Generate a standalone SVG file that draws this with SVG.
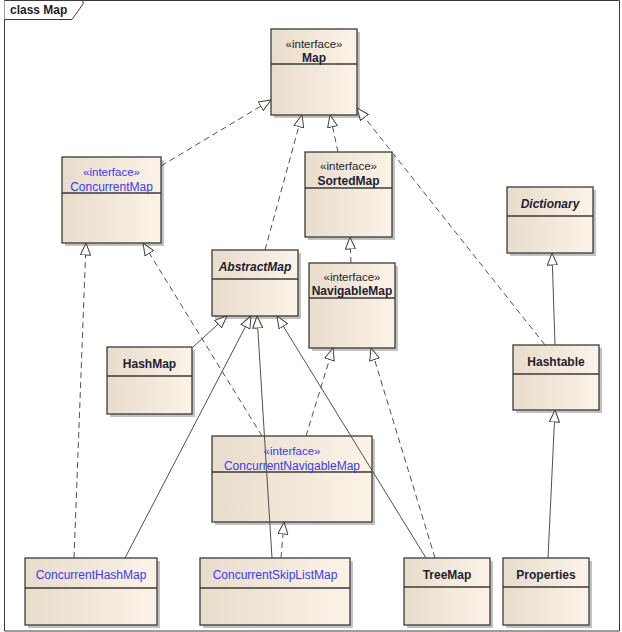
<svg xmlns="http://www.w3.org/2000/svg" width="622" height="632" viewBox="0 0 622 632">
<style>
.box{fill:url(#g);stroke:#3a3a3a;stroke-width:1.3}
.sh{fill:#8f8f8f;opacity:.55}
.dv{stroke:#3a3a3a;stroke-width:1.3}
.st{font-family:"Liberation Sans",Arial,sans-serif;font-size:11.5px;fill:#1e1e30;text-anchor:middle}
.nm{font-family:"Liberation Sans",Arial,sans-serif;font-size:12px;font-weight:bold;fill:#1e1e30;text-anchor:middle}
.it{font-style:italic}
.bl{fill:#3a3af0}
.bn{font-family:"Liberation Sans",Arial,sans-serif;font-size:12px;fill:#3a3af0;text-anchor:middle}
.c{fill:none;stroke:#505050;stroke-width:1;marker-end:url(#tri)}
.d{stroke-dasharray:6 4}
</style>
<defs>
<linearGradient id="g" x1="0" y1="0" x2="1" y2="0">
<stop offset="0" stop-color="#e8dccb"/>
<stop offset="1" stop-color="#fcf3e7"/>
</linearGradient>
<marker id="tri" markerUnits="userSpaceOnUse" markerWidth="13" markerHeight="11" viewBox="0 0 13 11" refX="12.5" refY="5.5" orient="auto">
<path d="M0.5,0.5 L12.5,5.5 L0.5,10.5 Z" fill="#fffdf8" stroke="#404040" stroke-width="1"/>
</marker>
</defs>
<rect x="0" y="0" width="622" height="632" fill="#ffffff"/>
<g id="frame">
<path d="M4.5,0.5 H619.5 V631 H4.5 Z" fill="none" stroke="#3a3a3a" stroke-width="1"/>
<path d="M4.5,0.5 H83 V4 L72,19.5 H4.5" fill="#ffffff" stroke="#3a3a3a" stroke-width="1"/>
<text x="10" y="14" font-family="Liberation Sans,Arial,sans-serif" font-size="12" font-weight="bold" fill="#1e1e30">class Map</text>
</g>

<g id="Map">
<rect class="sh" x="274" y="32" width="86" height="86"/>
<rect class="box" x="271" y="29" width="86" height="86"/>
<line class="dv" x1="271" y1="64" x2="357" y2="64"/>
<text class="st" x="314" y="48">«interface»</text>
<text class="nm" x="314" y="62">Map</text>
</g>

<g id="ConcurrentMap">
<rect class="sh" x="65" y="160" width="99" height="86"/>
<rect class="box" x="62" y="157" width="99" height="86"/>
<line class="dv" x1="62" y1="193" x2="161" y2="193"/>
<text class="st bl" x="111.5" y="176">«interface»</text>
<text class="bn" x="111.5" y="191">ConcurrentMap</text>
</g>

<g id="SortedMap">
<rect class="sh" x="308" y="155" width="87" height="85"/>
<rect class="box" x="305" y="152" width="87" height="85"/>
<line class="dv" x1="305" y1="188" x2="392" y2="188"/>
<text class="st" x="348.5" y="170">«interface»</text>
<text class="nm" x="348.5" y="185">SortedMap</text>
</g>

<g id="AbstractMap">
<rect class="sh" x="215" y="253" width="86" height="66"/>
<rect class="box" x="212" y="250" width="86" height="66"/>
<line class="dv" x1="212" y1="279" x2="298" y2="279"/>
<text class="nm it" x="255" y="271">AbstractMap</text>
</g>

<g id="NavigableMap">
<rect class="sh" x="312" y="266" width="86" height="85"/>
<rect class="box" x="309" y="263" width="86" height="85"/>
<line class="dv" x1="309" y1="298" x2="395" y2="298"/>
<text class="st" x="352" y="281">«interface»</text>
<text class="nm" x="352" y="295">NavigableMap</text>
</g>

<g id="HashMap">
<rect class="sh" x="110" y="350" width="85" height="67"/>
<rect class="box" x="107" y="347" width="85" height="67"/>
<line class="dv" x1="107" y1="376" x2="192" y2="376"/>
<text class="nm" x="149.5" y="368">HashMap</text>
</g>

<g id="Dictionary">
<rect class="sh" x="510" y="190" width="86" height="66"/>
<rect class="box" x="507" y="187" width="86" height="66"/>
<line class="dv" x1="507" y1="216" x2="593" y2="216"/>
<text class="nm it" x="550" y="208">Dictionary</text>
</g>

<g id="Hashtable">
<rect class="sh" x="516" y="348" width="86" height="65"/>
<rect class="box" x="513" y="345" width="86" height="65"/>
<line class="dv" x1="513" y1="374" x2="599" y2="374"/>
<text class="nm" x="556" y="366">Hashtable</text>
</g>

<g id="ConcurrentNavigableMap">
<rect class="sh" x="215" y="439" width="160" height="86"/>
<rect class="box" x="212" y="436" width="160" height="86"/>
<line class="dv" x1="212" y1="472" x2="372" y2="472"/>
<text class="st bl" x="292" y="455">«interface»</text>
<text class="bn" x="292" y="470">ConcurrentNavigableMap</text>
</g>

<g id="ConcurrentHashMap">
<rect class="sh" x="28" y="561" width="132" height="67"/>
<rect class="box" x="25" y="558" width="132" height="67"/>
<line class="dv" x1="25" y1="588" x2="157" y2="588"/>
<text class="bn" x="91" y="579">ConcurrentHashMap</text>
</g>

<g id="ConcurrentSkipListMap">
<rect class="sh" x="203" y="561" width="150" height="67"/>
<rect class="box" x="200" y="558" width="150" height="67"/>
<line class="dv" x1="200" y1="588" x2="350" y2="588"/>
<text class="bn" x="275" y="579">ConcurrentSkipListMap</text>
</g>

<g id="TreeMap">
<rect class="sh" x="407" y="561" width="86" height="67"/>
<rect class="box" x="404" y="558" width="86" height="67"/>
<line class="dv" x1="404" y1="587" x2="490" y2="587"/>
<text class="nm" x="447" y="579">TreeMap</text>
</g>

<g id="Properties">
<rect class="sh" x="506" y="561" width="86" height="67"/>
<rect class="box" x="503" y="558" width="86" height="67"/>
<line class="dv" x1="503" y1="587" x2="589" y2="587"/>
<text class="nm" x="546" y="579">Properties</text>
</g>

<g id="connectors">
<path class="c d" d="M161,166 L271,100"/>
<path class="c d" d="M265,250 L302,115"/>
<path class="c d" d="M338,152 L330,115"/>
<path class="c d" d="M545,345 L357,108"/>
<path class="c d" d="M351,263 L350,237"/>
<path class="c" d="M555,345 L552,253"/>
<path class="c" d="M548,558 L555,410"/>
<path class="c d" d="M74,558 L86,243"/>
<path class="c d" d="M262,436 L143,243"/>
<path class="c" d="M193,347 L227,316"/>
<path class="c" d="M125,558 L251,316"/>
<path class="c" d="M272,558 L257,316"/>
<path class="c" d="M426,558 L277,316"/>
<path class="c d" d="M435,558 L371,348"/>
<path class="c d" d="M306,436 L333,348"/>
<path class="c d" d="M281,558 L284,522"/>
</g>
</svg>
